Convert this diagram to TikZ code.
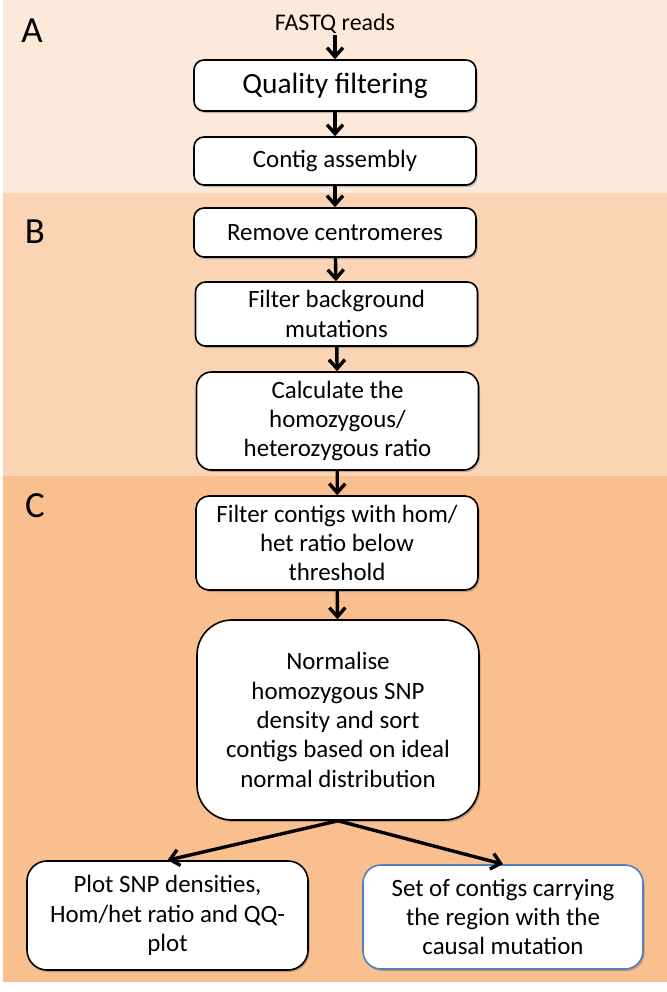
\documentclass[tikz,border=0pt]{standalone}
\usepackage{fontspec}
\setmainfont{Carlito}
\usetikzlibrary{arrows.meta,shadows}
\definecolor{bandA}{HTML}{FDE9D9}
\definecolor{bandB}{HTML}{FBD4B4}
\definecolor{bandC}{HTML}{FABF8F}
\definecolor{boxblue}{HTML}{4F81BD}
\begin{document}
\begin{tikzpicture}[x=1bp,y=-1bp,
  box/.style={draw=black, line width=1.6bp, fill=white, rounded corners=10bp,
    minimum width=282bp, align=center, inner sep=0pt,
    font=\fontsize{25}{29.5}\selectfont,
    drop shadow={shadow xshift=1.5bp, shadow yshift=-2bp, opacity=0.35, fill=black!70}},
  flow/.style={-{Straight Barb[length=9bp,width=16bp]}, line width=3.4bp},
  panel/.style={font=\fontsize{37}{40}\selectfont}]
\useasboundingbox (0,0) rectangle (667,992);
\fill[white] (0,0) rectangle (667,992);
\fill[bandA] (3,0) rectangle (667,193);
\fill[bandB] (3,193) rectangle (667,476);
\fill[bandC] (3,476) rectangle (667,982);

\node[panel] (la) at (32,31) {A};
\node[panel] (lb) at (35,232) {B};
\node[panel] (lc) at (35,506) {C};

\node[font=\fontsize{24}{28}\selectfont, inner sep=1bp] (fastq) at (335,24) {FASTQ reads};
\node[box, minimum height=51bp, font=\fontsize{29.5}{33}\selectfont] (q) at (335,85.5) {Quality filtering};
\node[box, minimum height=48bp] (ca) at (335,161) {Contig assembly};
\node[box, minimum height=49bp] (rc) at (335,232.5) {Remove centromeres};
\node[box, minimum height=64bp] (fb) at (336.5,314) {Filter background\\mutations};
\node[box, minimum height=98bp, rounded corners=15bp] (cr) at (337.5,421) {Calculate the\\homozygous/\\heterozygous ratio};
\node[box, minimum height=94bp, rounded corners=13bp] (fc) at (337,543) {Filter contigs with hom/\\het ratio below\\threshold};
\node[box, minimum height=200bp, rounded corners=35bp] (nm) at (338,720) {Normalise\\homozygous SNP\\density and sort\\contigs based on ideal\\normal distribution};
\node[box, minimum width=281bp, minimum height=109bp, rounded corners=20bp] (pl) at (167.5,915.5) {Plot SNP densities,\\Hom/het ratio and QQ-\\plot};
\node[box, draw=boxblue, minimum width=280bp, minimum height=104bp, rounded corners=18bp] (st) at (503,917) {Set of contigs carrying\\the region with the\\causal mutation};

\draw[flow] (fastq) -- (q);
\draw[flow] (q) -- (ca);
\draw[flow] (ca) -- (rc);
\draw[flow] (rc) -- (fb);
\draw[flow] (fb) -- (cr);
\draw[flow] (cr) -- (fc);
\draw[flow] (fc) -- (nm);
\draw[flow] (nm.south) -- (pl.north);
\draw[flow] (nm.south) -- (st.north);
\end{tikzpicture}
\end{document}
